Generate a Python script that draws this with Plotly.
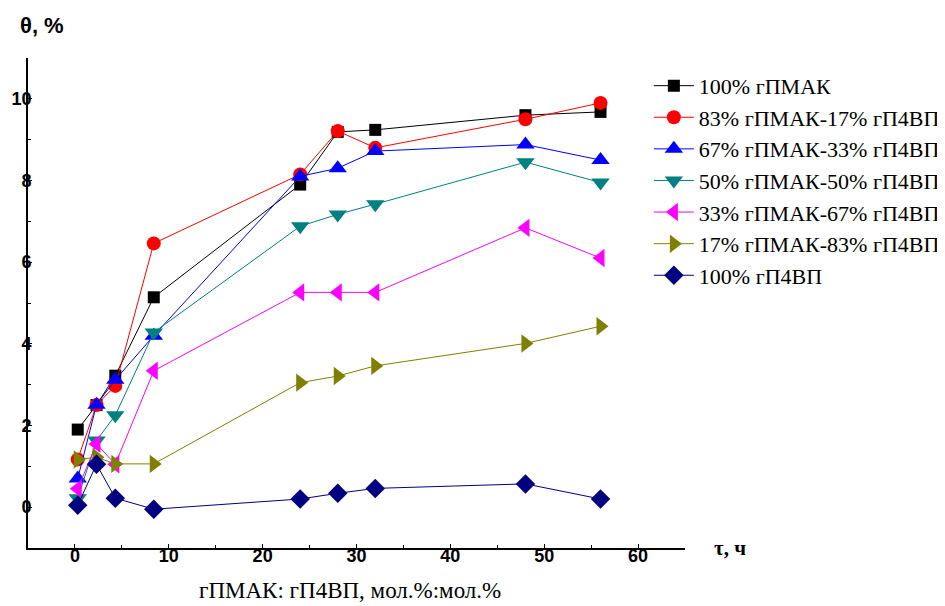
import plotly.graph_objects as go

time_h = [0.3, 2.3, 4.3, 8.4, 24, 28, 32, 48, 56]

series_names = [
    "100% гПМАК",
    "83% гПМАК-17% гП4ВП",
    "67% гПМАК-33% гП4ВП",
    "50% гПМАК-50% гП4ВП",
    "33% гПМАК-67% гП4ВП",
    "17% гПМАК-83% гП4ВП",
    "100% гП4ВП",
]

gpmak_100 = [1.9, 2.5, 3.22, 5.14, 7.9, 9.19, 9.24, 9.6, 9.68]
gpmak_83 = [1.17, 2.5, 2.97, 6.46, 8.15, 9.21, 8.8, 9.5, 9.9]
gpmak_67 = [0.7, 2.51, 3.12, 4.2, 8.1, 8.3, 8.72, 8.88, 8.5]
gpmak_50 = [0.22, 1.63, 2.25, 4.28, 6.88, 7.17, 7.42, 8.45, 7.95]
gpmak_33 = [0.45, 1.55, 1.05, 3.34, 5.26, 5.26, 5.26, 6.84, 6.1]
gpmak_17 = [1.17, 1.22, 1.06, 1.06, 3.05, 3.21, 3.46, 4.01, 4.43]
gp4vp_100 = [0.05, 1.05, 0.22, -0.05, 0.2, 0.34, 0.46, 0.57, 0.2]

values = [gpmak_100, gpmak_83, gpmak_67, gpmak_50, gpmak_33, gpmak_17, gp4vp_100]
colors = ["#000000", "#FF0000", "#0000FF", "#008080", "#FF00FF", "#808000", "#000080"]
symbols = ["square", "circle", "triangle-up", "triangle-down", "triangle-left", "triangle-right", "diamond"]
sizes = [12, 14, 16, 16, 16, 16, 15]

SERIF = "Liberation Serif"
SANS = "Liberation Sans"

fig = go.Figure()
for name, ys, c, s, sz in zip(series_names, values, colors, symbols, sizes):
    fig.add_trace(go.Scatter(
        x=time_h, y=ys, name=name, mode="lines+markers",
        line=dict(color=c, width=1),
        marker=dict(symbol=s, size=sz, color=c, line=dict(width=0)),
    ))

fig.update_layout(
    width=937, height=598,
    margin=dict(l=20, r=260, t=50, b=58, autoexpand=False),
    plot_bgcolor="white", paper_bgcolor="white",
    showlegend=True,
    legend=dict(
        x=0.945, y=0.986, xanchor="left", yanchor="top",
        font=dict(family=SERIF, size=22, color="black"),
        bgcolor="rgba(0,0,0,0)", tracegroupgap=0, itemwidth=40,
    ),
    xaxis=dict(
        range=[-5, 65], tickvals=[0, 10, 20, 30, 40, 50, 60],
        showgrid=False, zeroline=False, automargin=False,
        showline=True, linecolor="black", linewidth=2,
        ticks="inside", ticklen=4, tickcolor="black",
        minor=dict(tickvals=[-5, 5, 15, 25, 35, 45, 55, 65], ticks="inside", ticklen=3, tickcolor="black"),
        tickfont=dict(family=SANS, size=18, color="black", weight="bold"),
        ticklabelstandoff=-10,
    ),
    yaxis=dict(
        range=[-1, 11], tickvals=[0, 2, 4, 6, 8, 10],
        showgrid=False, zeroline=False, automargin=False,
        showline=True, linecolor="black", linewidth=2,
        ticks="inside", ticklen=4, tickcolor="black",
        minor=dict(tickvals=[-1, 1, 3, 5, 7, 9, 11], ticks="inside", ticklen=3, tickcolor="black"),
        tickfont=dict(family=SANS, size=18, color="black", weight="bold"),
        ticklabelstandoff=-9,
    ),
    annotations=[
        dict(text="θ, %", xref="paper", yref="paper", x=-0.015, y=1.067, xanchor="left", yanchor="middle",
             showarrow=False, font=dict(family=SANS, size=22, color="black", weight="bold")),
        dict(text="τ, ч", xref="paper", yref="paper", x=1.041, y=0.0, xanchor="left", yanchor="middle",
             showarrow=False, font=dict(family=SERIF, size=21, color="black", weight="bold")),
        dict(text="гПМАК: гП4ВП, мол.%:мол.%", xref="paper", yref="paper", x=0.49, y=-0.086,
             xanchor="center", yanchor="middle",
             showarrow=False, font=dict(family=SERIF, size=23, color="black")),
    ],
)

fig.write_html("out.html")
